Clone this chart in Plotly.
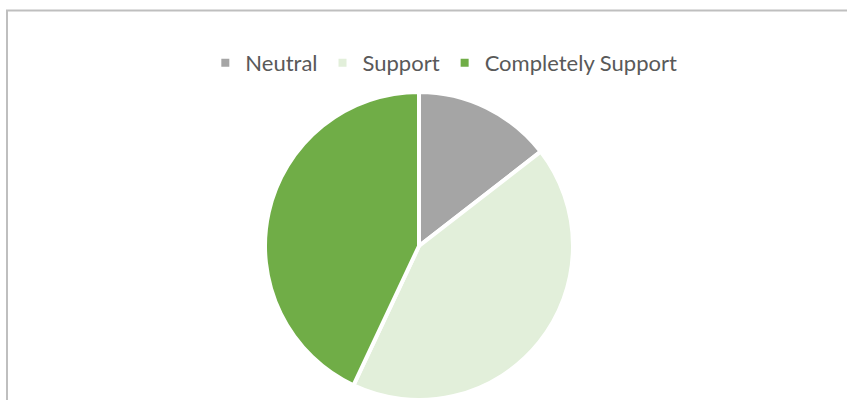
import plotly.graph_objects as go

# niveis de apoio e percentuais
labels = ['Neutral', 'Support', 'Completely Support']
values = [14.5, 42.5, 43.0]
colors = ['#a5a5a5', '#e2efda', '#70ad47']

W, H = 847, 400

fig = go.Figure(go.Pie(
    labels = labels,
    values = values,
    sort = False,
    direction = 'clockwise',
    rotation = 0,
    textinfo = 'none',
    hoverinfo = 'label+percent',
    marker = dict(colors = colors, line = dict(color = 'white', width = 4)),
    domain = dict(x = [264 / W, 574 / W], y = [0, 308 / H]),
))

# borda cinza (esquerda e topo), o grafico original esta recortado
fig.add_shape(type = 'line', xref = 'paper', yref = 'paper',
              x0 = 7 / W, x1 = 7 / W, y0 = 0, y1 = 1 - 10.5 / H,
              line = dict(color = '#bfbfbf', width = 2))
fig.add_shape(type = 'line', xref = 'paper', yref = 'paper',
              x0 = 6 / W, x1 = 1, y0 = 1 - 10.5 / H, y1 = 1 - 10.5 / H,
              line = dict(color = '#bfbfbf', width = 2))

fig.update_layout(
    width = W, height = H,
    margin = dict(l = 0, r = 0, t = 0, b = 0),
    paper_bgcolor = 'white',
    font = dict(family = 'Lato, Open Sans, sans-serif', size = 22, color = '#595959'),
    legend = dict(orientation = 'h', x = 0.524, xanchor = 'center', y = 1 - 63 / H, yanchor = 'middle',
                  traceorder = 'normal', itemwidth = 30, font = dict(size = 22, color = '#595959')),
)

# tira a margem padrao do body para a figura ficar colada no canto
fig.write_html("out.html", config = {'displayModeBar': False},
               post_script = "document.body.style.margin='0';document.body.style.overflow='hidden';")
